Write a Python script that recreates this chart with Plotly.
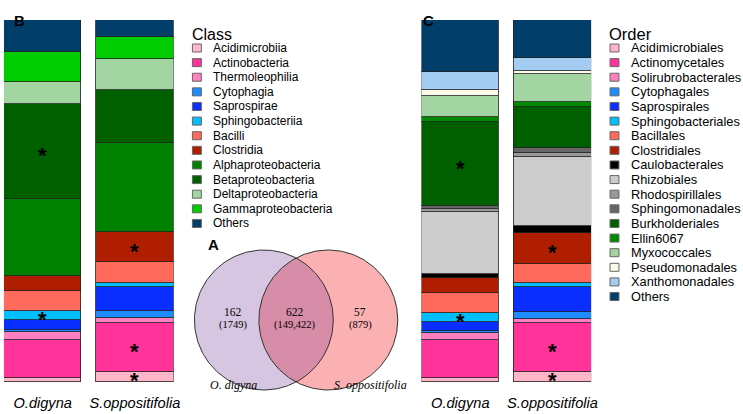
import numpy as np
import plotly.graph_objects as go

W, H = 743, 414

samples = ["O.digyna", "S.oppositifolia"]

class_names = ["Acidimicrobiia", "Actinobacteria", "Thermoleophilia", "Cytophagia",
               "Saprospirae", "Sphingobacteriia", "Bacilli", "Clostridia",
               "Alphaproteobacteria", "Betaproteobacteria", "Deltaproteobacteria",
               "Gammaproteobacteria", "Others"]
class_colors = ["#FFB6C8", "#FF3399", "#FF7FC0", "#1E8CFF", "#0A2EFF", "#00BFFF",
                "#FF6A5C", "#B01E00", "#008200", "#006000", "#A2D5A2", "#00CC00",
                "#023E6A"]
class_odigyna = [1.1, 10.5, 2.2, 0.6, 2.8, 2.5, 5.5, 4.1, 21.3, 26.2, 6.1, 8.3, 8.8]
class_soppositifolia = [2.8, 13.5, 1.4, 1.9, 6.6, 1.1, 5.8, 8.3, 24.6, 14.6, 8.6, 6.1, 4.7]
class_significant = {"O.digyna": ["Betaproteobacteria", "Sphingobacteriia"],
                     "S.oppositifolia": ["Clostridia", "Actinobacteria", "Acidimicrobiia"]}

order_names = ["Acidimicrobiales", "Actinomycetales", "Solirubrobacterales", "Cytophagales",
               "Saprospirales", "Sphingobacteriales", "Bacillales", "Clostridiales",
               "Caulobacterales", "Rhizobiales", "Rhodospirillales", "Sphingomonadales",
               "Burkholderiales", "Ellin6067", "Myxococcales", "Pseudomonadales",
               "Xanthomonadales", "Others"]
order_colors = ["#FFB6C8", "#FF3399", "#FF7FC0", "#1E8CFF", "#0A2EFF", "#00BFFF",
                "#FF6A5C", "#B01E00", "#000000", "#CCCCCC", "#999999", "#666666",
                "#006000", "#008A00", "#A2D5A2", "#FAFAE6", "#A4CCF2", "#023E6A"]
order_odigyna = [1.1, 10.5, 1.9, 0.6, 2.5, 2.5, 5.5, 4.1, 1.1, 17.1, 0.8, 0.8,
                 23.2, 1.4, 5.8, 1.9, 4.7, 14.5]
order_soppositifolia = [2.8, 13.5, 1.1, 1.9, 6.9, 1.1, 5.2, 8.6, 1.9, 19.1, 1.1, 1.4,
                        11.3, 1.4, 7.7, 0.8, 3.6, 10.6]
order_significant = {"O.digyna": ["Burkholderiales", "Sphingobacteriales"],
                     "S.oppositifolia": ["Clostridiales", "Actinomycetales", "Acidimicrobiales"]}

venn_sets = ["O. digyna", "S. oppositifolia"]
venn_otus = ["162", "622", "57"]
venn_reads = ["(1749)", "(149,422)", "(879)"]

SANS = "Liberation Sans"
SERIF = "Liberation Serif"


def px_x(p):
    return p / W


def px_y(p):
    return 1 - p / H


fig = go.Figure()
annotations = []
shapes = []


def add_stack(names, colors, v1, v2, sig, xa, ya):
    for n, c, a, b in zip(names, colors, v1, v2):
        fig.add_trace(go.Bar(x=samples, y=[a, b], marker=dict(color=c, line=dict(color="#222222", width=0.8)),
                             width=0.84, xaxis=xa, yaxis=ya, showlegend=False, name=n, hoverinfo="skip"))
    for s, vals in zip(samples, [v1, v2]):
        cum = np.cumsum([0] + list(vals))
        for n in sig[s]:
            i = names.index(n)
            annotations.append(dict(x=s, y=(cum[i] + cum[i + 1]) / 2, xref=xa, yref=ya, text="<b>*</b>",
                                    showarrow=False, yshift=-4,
                                    font=dict(family=SANS, size=22, color="black")))


add_stack(class_names, class_colors, class_odigyna, class_soppositifolia, class_significant, "x", "y")
add_stack(order_names, order_colors, order_odigyna, order_soppositifolia, order_significant, "x2", "y2")

# Venn diagram (axis units = pixels)
r = 70.0
cl = (76.0, 80.0)
cr = (141.0, 80.0)
t = np.linspace(0, 2 * np.pi, 240)
d = cr[0] - cl[0]
a = np.arccos(d / 2 / r)
ta = np.linspace(-a, a, 120)
tb = np.linspace(np.pi - a, np.pi + a, 120)
lens_x = np.concatenate([cl[0] + r * np.cos(ta), cr[0] + r * np.cos(tb)])
lens_y = np.concatenate([cl[1] + r * np.sin(ta), cr[1] + r * np.sin(tb)])

for (cx, cy), fc in [(cl, "#D6C6E2"), (cr, "#FBB0B2")]:
    fig.add_trace(go.Scatter(x=cx + r * np.cos(t), y=cy + r * np.sin(t), fill="toself", fillcolor=fc,
                             mode="lines", line=dict(width=0), xaxis="x3", yaxis="y3",
                             showlegend=False, hoverinfo="skip"))
fig.add_trace(go.Scatter(x=lens_x, y=lens_y, fill="toself", fillcolor="#D78CA8", mode="lines",
                         line=dict(width=0), xaxis="x3", yaxis="y3", showlegend=False, hoverinfo="skip"))
for cx, cy in [cl, cr]:
    fig.add_trace(go.Scatter(x=cx + r * np.cos(t), y=cy + r * np.sin(t), mode="lines",
                             line=dict(color="#333333", width=1), xaxis="x3", yaxis="y3",
                             showlegend=False, hoverinfo="skip"))

venn_text_x = [cl[0] - 31, (cl[0] + cr[0]) / 2 - 1, cr[0] + 32]
for xx, n, rd in zip(venn_text_x, venn_otus, venn_reads):
    annotations.append(dict(x=xx, y=88, xref="x3", yref="y3", text=n, showarrow=False,
                            font=dict(family=SERIF, size=11.5, color="black")))
    annotations.append(dict(x=xx, y=75, xref="x3", yref="y3", text=rd, showarrow=False,
                            font=dict(family=SERIF, size=10.5, color="black")))
annotations.append(dict(x=cl[0] - 31, y=15, xref="x3", yref="y3", text="<i>" + venn_sets[0] + "</i>",
                        showarrow=False, font=dict(family=SERIF, size=12, color="black")))
annotations.append(dict(x=cr[0] + 43, y=15, xref="x3", yref="y3", text="<i>" + venn_sets[1] + "</i>",
                        showarrow=False, font=dict(family=SERIF, size=12, color="black")))

# panel letters
for txt, x, y in [("B", 12, 10), ("C", 432, 10), ("A", 208, 245)]:
    annotations.append(dict(x=px_x(x), y=px_y(y), xref="paper", yref="paper", text="<b>" + txt + "</b>",
                            showarrow=False, font=dict(family=SANS, size=15, color="black")))


# manual legends
def add_legend(title, names, colors, x_sq, x_txt, title_x, fs, tfs):
    annotations.append(dict(x=px_x(title_x), y=px_y(34), xref="paper", yref="paper", text=title,
                            xanchor="left", yanchor="middle", showarrow=False,
                            font=dict(family=SANS, size=tfs, color="black")))
    step = 14.62
    for i, (n, c) in enumerate(zip(names, colors)):
        yc = 48 + i * step
        shapes.append(dict(type="rect", xref="paper", yref="paper",
                           x0=px_x(x_sq), x1=px_x(x_sq + 9), y0=px_y(yc + 4), y1=px_y(yc - 4),
                           fillcolor=c, line=dict(color="#666666", width=1)))
        annotations.append(dict(x=px_x(x_txt), y=px_y(yc), xref="paper", yref="paper", text=n,
                                xanchor="left", yanchor="middle", showarrow=False,
                                font=dict(family=SANS, size=fs, color="black")))


add_legend("Class", class_names, class_colors, 194, 213, 192, 12, 16)
add_legend("Order", order_names, order_colors, 615, 634, 612, 12.8, 16.5)

xcommon = dict(type="category", range=[-0.42, 1.42], showgrid=False, zeroline=False, showline=False,
               ticks="", ticklabelstandoff=10,
               tickfont=dict(family=SANS, size=14.6, style="italic", color="black"))
ycommon = dict(range=[0, 100], visible=False, domain=[1 - 382 / H, 1 - 20 / H])

fig.update_layout(
    width=W, height=H, margin=dict(l=0, r=0, t=0, b=0),
    paper_bgcolor="white", plot_bgcolor="rgba(0,0,0,0)",
    barmode="stack", bargap=0,
    xaxis=dict(domain=[px_x(4), px_x(175)], anchor="y", **xcommon),
    yaxis=dict(anchor="x", **ycommon),
    xaxis2=dict(domain=[px_x(425), px_x(596)], anchor="y2", **xcommon),
    yaxis2=dict(anchor="x2", **ycommon),
    xaxis3=dict(domain=[px_x(190), px_x(410)], range=[0, 220], visible=False, anchor="y3"),
    yaxis3=dict(domain=[px_y(400), px_y(240)], range=[0, 160], visible=False, anchor="x3"),
    annotations=annotations, shapes=shapes,
)

fig.write_html("out.html", config={"displayModeBar": False},
               post_script="document.body.style.margin='0';document.body.style.overflow='hidden';")
